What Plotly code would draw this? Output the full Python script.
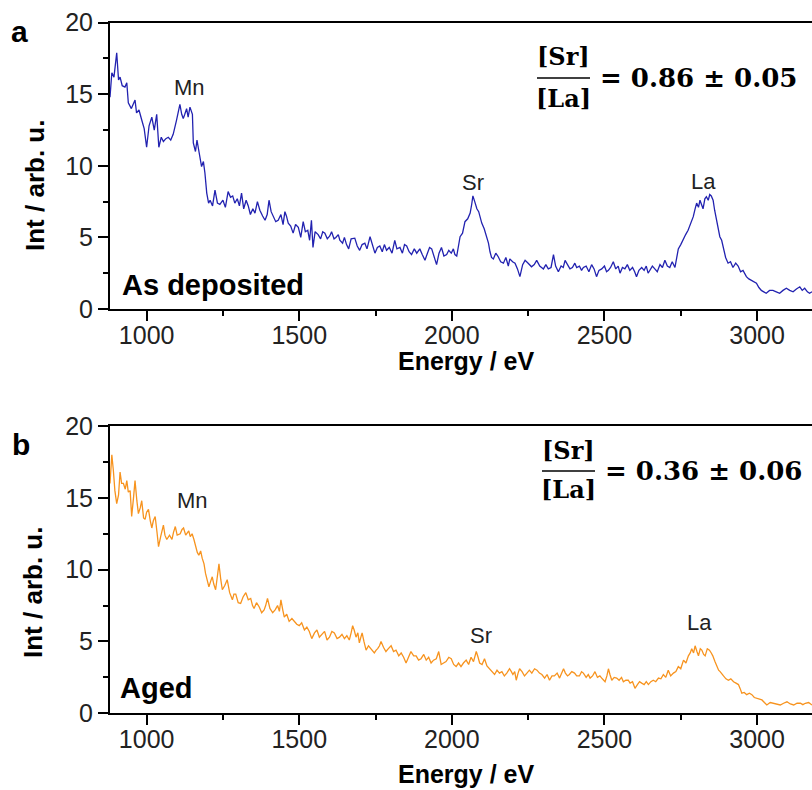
import plotly.graph_objects as go

# ---------------- data ----------------
energy_a = [880, 886, 893, 902, 908, 913, 920, 929, 935, 940, 950, 962, 967, 975, 984, 992, 1000, 1008, 1017, 1025,
            1033, 1040, 1048, 1055, 1063, 1071, 1079, 1087, 1098, 1109, 1115, 1120, 1125, 1131, 1136, 1142, 1150, 1153,
            1160, 1165, 1169, 1175, 1180, 1186, 1191, 1197, 1203, 1208, 1216, 1224, 1232, 1240, 1250, 1258, 1267, 1275,
            1282, 1289, 1297, 1304, 1311, 1318, 1326, 1333, 1340, 1348, 1355, 1363, 1371, 1380, 1388, 1395, 1401, 1408,
            1415, 1423, 1431, 1440, 1447, 1453, 1458, 1464, 1472, 1480, 1488, 1497, 1505, 1513, 1520, 1528, 1534, 1540,
            1545, 1552, 1562, 1570, 1577, 1584, 1592, 1600, 1606, 1614, 1620, 1628, 1633, 1642, 1648, 1655, 1662, 1670,
            1682, 1690, 1698, 1706, 1715, 1722, 1732, 1740, 1748, 1756, 1764, 1772, 1779, 1786, 1795, 1804, 1813, 1820,
            1830, 1838, 1845, 1852, 1860, 1868, 1877, 1885, 1895, 1903, 1912, 1920, 1927, 1934, 1942, 1950, 1958, 1966,
            1974, 1983, 1990, 1998, 2005, 2010, 2016, 2022, 2027, 2035, 2043, 2052, 2060, 2065, 2069, 2075, 2082, 2088,
            2093, 2098, 2106, 2114, 2120, 2125, 2130, 2136, 2144, 2152, 2160, 2169, 2177, 2185, 2190, 2199, 2207, 2215,
            2223, 2232, 2240, 2250, 2261, 2270, 2278, 2288, 2300, 2308, 2316, 2325, 2333, 2340, 2349, 2358, 2365, 2371,
            2380, 2387, 2395, 2403, 2409, 2418, 2425, 2431, 2440, 2449, 2458, 2466, 2474, 2482, 2491, 2500, 2507, 2513,
            2520, 2529, 2537, 2545, 2551, 2559, 2567, 2575, 2583, 2592, 2599, 2605, 2613, 2622, 2630, 2637, 2643, 2650,
            2657, 2665, 2673, 2682, 2690, 2698, 2706, 2714, 2722, 2731, 2737, 2742, 2750, 2758, 2766, 2774, 2782, 2791,
            2797, 2802, 2808, 2813, 2818, 2823, 2829, 2834, 2840, 2845, 2850, 2856, 2861, 2867, 2872, 2878, 2884, 2889,
            2897, 2905, 2913, 2921, 2930, 2938, 2946, 2954, 2960, 2965, 2973, 2981, 2990, 2998, 3006, 3014, 3022, 3030,
            3041, 3052, 3063, 3074, 3085, 3096, 3107, 3118, 3129, 3140, 3148, 3156, 3165, 3172, 3180]
intensity_a = [14.8, 16.5, 16.2, 17.9, 16.0, 16.2, 15.6, 15.5, 15.8, 14.4, 14.0, 14.6, 13.7, 13.9, 13.2, 12.6, 11.3, 12.8,
               13.4, 12.5, 13.6, 11.3, 12.0, 11.7, 11.9, 12.0, 11.8, 12.2, 13.2, 14.3, 13.6, 13.3, 13.6, 14.0, 13.4,
               14.1, 13.6, 11.6, 11.0, 11.8, 11.3, 10.5, 9.95, 10.3, 9.5, 8.1, 7.4, 7.6, 7.2, 8.3, 7.4, 7.3, 7.6, 7.1,
               8.2, 7.8, 7.9, 7.4, 7.7, 7.2, 8.1, 7.0, 7.6, 7.2, 6.6, 7.0, 6.7, 7.5, 6.9, 6.5, 6.2, 6.6, 7.6, 6.8, 6.5,
               6.1, 6.2, 6.6, 5.9, 6.8, 6.5, 6.0, 5.8, 5.3, 5.9, 5.7, 5.0, 6.1, 5.4, 5.5, 4.8, 6.2, 4.3, 5.4, 5.2, 4.9,
               5.4, 5.3, 4.9, 5.1, 5.4, 4.9, 5.0, 5.2, 4.8, 4.6, 5.0, 4.5, 4.2, 4.9, 4.95, 4.4, 4.1, 4.5, 4.6, 4.2, 5.05,
               4.5, 3.9, 4.3, 4.4, 4.0, 4.5, 4.1, 4.3, 3.9, 4.8, 4.2, 4.3, 3.9, 4.5, 4.4, 4.0, 3.8, 4.2, 3.9, 4.2, 3.8,
               3.4, 3.9, 4.3, 4.2, 3.7, 3.1, 3.9, 4.3, 3.7, 3.8, 4.1, 3.9, 4.2, 3.8, 3.7, 4.6, 5.05, 5.3, 6.1, 6.3, 6.7,
               7.3, 7.9, 7.5, 7.0, 6.8, 6.3, 6.0, 5.6, 5.05, 4.6, 4.0, 3.6, 3.5, 3.9, 3.65, 3.3, 3.2, 3.6, 3.0, 3.5, 3.3,
               3.2, 2.8, 2.26, 3.1, 3.4, 3.2, 2.95, 3.1, 3.4, 3.0, 2.8, 3.1, 2.8, 2.9, 3.8, 3.0, 2.6, 3.0, 2.9, 3.4, 3.0,
               2.8, 2.9, 3.2, 2.9, 3.0, 2.7, 2.9, 3.0, 2.6, 3.1, 2.8, 2.26, 2.7, 2.8, 3.0, 2.6, 2.7, 2.9, 3.3, 2.8, 3.0,
               2.5, 2.9, 2.8, 3.1, 2.7, 2.9, 2.6, 2.26, 2.7, 2.9, 2.7, 3.0, 2.5, 2.8, 3.0, 2.8, 2.6, 3.1, 2.9, 3.4, 3.0,
               2.9, 3.3, 2.9, 3.6, 4.2, 4.5, 4.9, 5.2, 5.5, 6.0, 6.45, 7.0, 7.4, 7.1, 7.6, 7.3, 7.0, 7.7, 7.85, 7.6, 8.0,
               7.9, 7.6, 6.9, 6.2, 5.6, 5.05, 4.8, 4.25, 3.6, 3.2, 3.3, 2.9, 3.2, 3.0, 2.6, 2.7, 2.4, 2.26, 2.1, 2.0,
               1.9, 1.8, 1.5, 1.3, 1.2, 1.1, 1.3, 1.3, 1.2, 1.1, 1.3, 1.45, 1.3, 1.2, 1.4, 1.55, 1.3, 1.45, 1.2, 1.1, 1.2]

energy_b = [880, 886, 891, 896, 902, 908, 913, 918, 924, 930, 935, 940, 946, 951, 957, 962, 968, 973, 979, 984, 990, 995,
            1000, 1006, 1012, 1017, 1022, 1028, 1034, 1039, 1046, 1055, 1060, 1066, 1075, 1083, 1088, 1094, 1100, 1110,
            1116, 1121, 1128, 1138, 1143, 1149, 1155, 1160, 1166, 1171, 1177, 1182, 1188, 1193, 1199, 1204, 1210, 1215,
            1220, 1226, 1231, 1237, 1243, 1248, 1256, 1264, 1272, 1281, 1286, 1292, 1300, 1308, 1316, 1325, 1333, 1341,
            1347, 1352, 1360, 1369, 1377, 1385, 1390, 1396, 1404, 1413, 1421, 1429, 1435, 1440, 1446, 1451, 1459, 1467,
            1476, 1484, 1492, 1500, 1508, 1517, 1525, 1533, 1541, 1550, 1558, 1566, 1575, 1583, 1591, 1599, 1607, 1615,
            1624, 1632, 1640, 1648, 1656, 1664, 1670, 1675, 1680, 1686, 1692, 1697, 1702, 1706, 1712, 1719, 1727, 1735,
            1741, 1746, 1752, 1757, 1763, 1768, 1776, 1784, 1792, 1801, 1809, 1817, 1826, 1834, 1842, 1850, 1858, 1866,
            1875, 1883, 1891, 1899, 1908, 1916, 1924, 1932, 1940, 1949, 1957, 1965, 1973, 1981, 1990, 1998, 2006, 2014,
            2022, 2030, 2038, 2047, 2055, 2063, 2071, 2080, 2086, 2091, 2099, 2107, 2115, 2123, 2131, 2140, 2148, 2156,
            2164, 2172, 2180, 2189, 2195, 2200, 2206, 2211, 2217, 2222, 2230, 2238, 2246, 2254, 2262, 2271, 2279, 2287,
            2295, 2304, 2312, 2320, 2328, 2336, 2345, 2353, 2360, 2366, 2372, 2379, 2385, 2393, 2402, 2409, 2418, 2425,
            2431, 2440, 2447, 2453, 2461, 2469, 2477, 2485, 2493, 2502, 2508, 2513, 2518, 2524, 2532, 2540, 2548, 2556,
            2562, 2570, 2578, 2584, 2592, 2600, 2608, 2615, 2622, 2630, 2637, 2644, 2652, 2660, 2668, 2677, 2685, 2693,
            2701, 2709, 2717, 2726, 2734, 2742, 2750, 2759, 2767, 2775, 2781, 2786, 2792, 2797, 2803, 2808, 2814, 2819,
            2825, 2830, 2837, 2844, 2850, 2855, 2862, 2868, 2874, 2879, 2885, 2890, 2898, 2906, 2914, 2923, 2931, 2939,
            2945, 2950, 2958, 2966, 2975, 2983, 2991, 2999, 3008, 3016, 3024, 3032, 3043, 3054, 3065, 3076, 3087, 3098,
            3109, 3120, 3131, 3142, 3150, 3158, 3169, 3180]
intensity_b = [16.0, 18.0, 16.9, 15.5, 14.6, 15.2, 16.8, 16.0, 16.0, 15.6, 16.2, 15.4, 15.5, 13.7, 15.0, 16.2, 14.8, 13.9,
               14.3, 14.8, 13.6, 13.5, 14.0, 14.2, 13.4, 12.9, 13.4, 13.7, 12.6, 11.6, 12.3, 13.1, 12.4, 12.1, 12.4,
               12.1, 12.6, 13.0, 12.4, 12.5, 12.8, 12.9, 12.4, 12.7, 12.3, 12.5, 12.1, 11.6, 11.2, 11.0, 11.3, 10.8,
               10.4, 9.74, 9.2, 8.8, 9.2, 9.5, 9.0, 8.6, 9.4, 10.4, 9.3, 8.6, 8.9, 9.3, 8.4, 7.9, 8.3, 8.3, 7.7, 7.65,
               8.1, 8.4, 7.9, 8.0, 7.5, 7.3, 7.7, 7.4, 7.0, 7.2, 7.5, 8.0, 7.3, 7.0, 7.2, 7.5, 7.1, 7.9, 7.2, 6.7, 6.9,
               6.4, 6.6, 6.4, 6.2, 6.1, 6.3, 5.8, 6.0, 5.7, 5.2, 5.6, 5.8, 5.3, 5.5, 5.7, 5.1, 5.3, 5.7, 5.6, 5.2, 5.3,
               5.5, 5.2, 5.4, 5.1, 5.6, 6.1, 5.8, 5.3, 5.6, 4.9, 5.3, 5.6, 5.0, 4.4, 4.7, 4.5, 4.4, 4.2, 4.4, 4.5, 4.7,
               5.0, 4.6, 4.3, 4.5, 4.7, 4.3, 4.4, 4.0, 4.2, 3.9, 3.5, 3.9, 4.3, 4.0, 4.0, 3.7, 3.8, 4.1, 3.7, 3.9, 3.5,
               3.7, 3.8, 4.3, 3.4, 3.5, 3.6, 3.9, 3.8, 3.4, 3.25, 3.5, 3.25, 3.5, 3.7, 3.4, 3.9, 3.6, 4.3, 3.9, 3.5,
               3.4, 3.8, 3.3, 3.1, 2.9, 2.7, 3.0, 2.8, 2.9, 2.6, 2.8, 3.1, 2.9, 2.7, 2.9, 2.3, 2.8, 3.1, 2.9, 2.6, 2.8,
               3.0, 2.8, 3.1, 3.0, 2.8, 2.7, 2.45, 2.7, 2.3, 2.6, 2.6, 2.8, 2.45, 2.8, 3.1, 2.8, 2.6, 2.7, 2.9, 2.8,
               2.6, 2.6, 2.9, 2.8, 2.5, 2.7, 2.45, 2.6, 2.9, 2.5, 2.6, 2.4, 2.2, 2.6, 3.1, 2.7, 2.3, 2.5, 2.45, 2.3,
               2.5, 2.2, 2.3, 2.3, 2.1, 2.2, 1.74, 2.0, 2.2, 2.1, 2.0, 2.2, 2.0, 2.2, 2.3, 2.2, 2.45, 2.4, 2.7, 2.5,
               3.0, 2.6, 2.8, 2.9, 3.25, 3.1, 3.7, 3.5, 4.0, 4.2, 4.5, 4.2, 4.7, 4.3, 4.0, 4.5, 4.4, 4.1, 4.0, 4.5, 4.4,
               4.2, 4.0, 3.6, 3.25, 3.0, 2.9, 2.7, 2.6, 2.4, 2.3, 2.4, 2.2, 2.1, 2.0, 1.7, 1.4, 1.45, 1.3, 1.4, 1.3,
               1.1, 1.04, 1.0, 0.93, 0.75, 0.58, 0.75, 0.7, 0.6, 0.58, 0.7, 0.8, 0.65, 0.58, 0.7, 0.7, 0.6, 0.7, 0.75,
               0.58]

peak_labels = ["Mn", "Sr", "La"]
panel_letters = ["a", "b"]
sample_names = ["As deposited", "Aged"]
ratio_texts = ["= 0.86 ± 0.05", "= 0.36 ± 0.06"]
x_ticks = [1000, 1500, 2000, 2500, 3000]
y_ticks = [0, 5, 10, 15, 20]

# ---------------- layout helpers ----------------
W, H = 812, 790
ML, MR = 110, 0
PW = W - ML - MR


def px(x):
    return (x - ML) / PW


def py(y):
    return 1 - y / H


color_a = "#2222b0"
color_b = "#f7931e"
sans = "Liberation Sans, Arial, sans-serif"
serif = "DejaVu Serif, serif"

fig = go.Figure()
fig.add_trace(go.Scatter(x=energy_a, y=intensity_a, mode="lines", xaxis="x", yaxis="y",
                         line=dict(color=color_a, width=1.3), showlegend=False))
fig.add_trace(go.Scatter(x=energy_b, y=intensity_b, mode="lines", xaxis="x2", yaxis="y2",
                         line=dict(color=color_b, width=1.3), showlegend=False))

xcommon = dict(range=[880, 3180], showgrid=False, zeroline=False, showline=True, linecolor="black",
               linewidth=2, mirror=True, ticks="outside", ticklen=10, tickwidth=1.5, tickcolor="black",
               tickvals=x_ticks, tickfont=dict(family=sans, size=25, color="#222"), ticklabelstandoff=-7,
               minor=dict(ticks="outside", ticklen=5, tickwidth=1.5, tickcolor="black", dtick=250, tick0=0),
               automargin=False, fixedrange=True)
ycommon = dict(range=[0, 20], showgrid=False, zeroline=False, showline=True, linecolor="black",
               linewidth=2, mirror=False, ticks="outside", ticklen=10, tickwidth=1.5, tickcolor="black",
               tickvals=y_ticks, tickfont=dict(family=sans, size=25, color="#222"),
               minor=dict(ticks="outside", ticklen=5, tickwidth=1.5, tickcolor="black", dtick=2.5, tick0=0),
               automargin=False, fixedrange=True)

fig.update_layout(
    width=W, height=H,
    margin=dict(l=ML, r=MR, t=0, b=0, autoexpand=False),
    paper_bgcolor="white", plot_bgcolor="white",
    xaxis=dict(domain=[0, 1], anchor="y", **xcommon),
    yaxis=dict(domain=[py(309), py(22.7)], anchor="x", **ycommon),
    xaxis2=dict(domain=[0, 1], anchor="y2", **xcommon),
    yaxis2=dict(domain=[py(713.3), py(426)], anchor="x2", **ycommon),
)

ann = []


def add_text(text, x, y, size, family=sans, bold=False, color="#222", angle=0, xanchor="center",
             yanchor="middle"):
    t = f"<b>{text}</b>" if bold else text
    ann.append(dict(text=t, x=px(x), y=py(y), xref="paper", yref="paper", showarrow=False,
                    xanchor=xanchor, yanchor=yanchor, textangle=angle,
                    font=dict(family=family, size=size, color=color)))


# panel letters
add_text(panel_letters[0], 19, 32, 30, bold=True, color="black")
add_text(panel_letters[1], 21, 444, 30, bold=True, color="black")

# axis titles
add_text("Int / arb. u.", 35, 186, 26, bold=True, color="black", angle=-90)
add_text("Int / arb. u.", 33, 593, 26, bold=True, color="black", angle=-90)
add_text("Energy / eV", 466, 361, 25, bold=True, color="black")
add_text("Energy / eV", 466, 790, 25, bold=True, color="black", yanchor="bottom")

# sample names
add_text(sample_names[0], 120, 285, 29, bold=True, color="black", xanchor="left")
add_text(sample_names[1], 118, 688, 29, bold=True, color="black", xanchor="left")

# peak labels
add_text(peak_labels[0], 189, 87, 22)
add_text(peak_labels[1], 473, 182, 22)
add_text(peak_labels[2], 703, 181, 22)
add_text(peak_labels[0], 192, 500, 22)
add_text(peak_labels[1], 481, 635, 22)
add_text(peak_labels[2], 699, 622, 22)

# ratio formulas
shapes = []
for (cx, ysr, yline, yla, xeq, yeq, txt) in [(563, 57, 78, 98, 598, 78, ratio_texts[0]),
                                              (568, 450, 471, 489, 603, 471, ratio_texts[1])]:
    add_text("[Sr]", cx, ysr, 24, family=serif, bold=True, color="black")
    add_text("[La]", cx, yla, 24, family=serif, bold=True, color="black")
    add_text(txt, xeq, yeq, 26, family=serif, bold=True, color="black", xanchor="left")
    shapes.append(dict(type="line", xref="paper", yref="paper", x0=px(cx - 26), x1=px(cx + 27),
                       y0=py(yline), y1=py(yline), line=dict(color="black", width=1.6)))

fig.update_layout(annotations=ann, shapes=shapes)

fig.write_html("out.html")
